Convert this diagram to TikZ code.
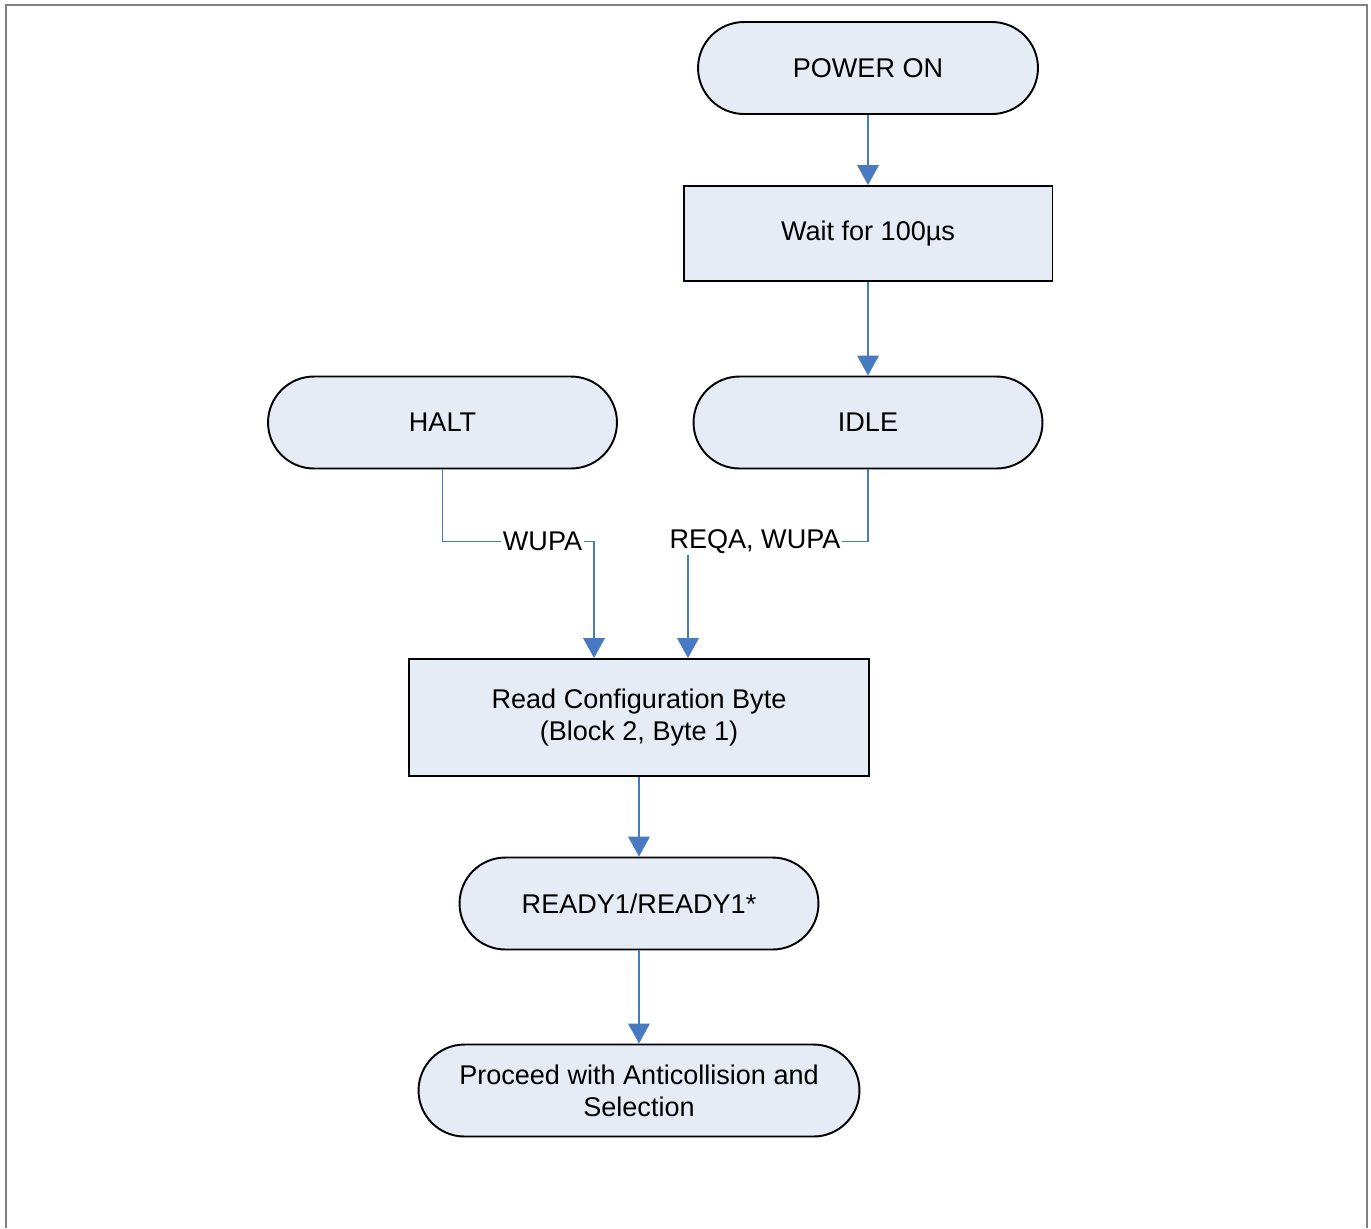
\documentclass[tikz,border=0pt]{standalone}
\usepackage{fontspec}
\setmainfont{Liberation Sans}
\usetikzlibrary{arrows.meta}

\definecolor{flowblue}{RGB}{72,122,194}
\definecolor{boxfill}{RGB}{230,236,246}
\definecolor{framegray}{RGB}{128,128,128}

\tikzset{
  base/.style={draw=black, line width=1.1pt, fill=boxfill, align=center,
    inner sep=0pt, font=\fontsize{15.4}{18}\selectfont},
  pill/.style={base, rounded corners=0.92cm, minimum height=1.84cm},
  stepbox/.style={base, rectangle},
  flow/.style={draw=flowblue, line width=1.1pt, -{Triangle[width=0.43cm,length=0.4cm]}},
  lbl/.style={fill=white, inner sep=1pt, font=\fontsize{15.4}{18}\selectfont}
}

\begin{document}
\begin{tikzpicture}[x=0.02cm, y=-0.02cm]
    \useasboundingbox (0,0) rectangle (1371,1228);
    \draw[framegray, line width=1.1pt] (6,1228) -- (6,5) -- (1367,5) -- (1367,1228); % open frame

    \node[pill, minimum width=6.8cm] (power) at (868,68) {POWER ON};
    \node[stepbox, minimum width=7.38cm, minimum height=1.9cm] (wait) at (868,233.5) {Wait for 100µs};
    \node[pill, minimum width=6.98cm] (halt) at (442.5,422.5) {HALT};
    \node[pill, minimum width=6.98cm] (idle) at (868,422.5) {IDLE};
    \node[stepbox, minimum width=9.2cm, minimum height=2.34cm] (cfg) at (639,717.5) {Read Configuration Byte\\(Block 2, Byte 1)};
    \node[pill, minimum width=7.18cm] (ready) at (639,903.5) {READY1/READY1*};
    \node[pill, minimum width=8.82cm] (proceed) at (639,1090.5) {Proceed with Anticollision and\\Selection};

    \coordinate (inL) at ([xshift=-0.9cm]cfg.north);
    \coordinate (inR) at ([xshift=0.98cm]cfg.north);

    \draw[flow] (power.south) -- (wait.north);
    \draw[flow] (wait.south) -- (idle.north);
    \draw[flow] (halt.south) -- ++(0,72) -| node[lbl, pos=0.33] (wupa) {WUPA} (inL);
    \draw[flow] (idle.south) -- ++(0,72) -| node[lbl, pos=0.314] (reqa) {REQA, WUPA} (inR);
    \draw[flow] (cfg.south) -- (ready.north);
    \draw[flow] (ready.south) -- (proceed.north);
\end{tikzpicture}
\end{document}
